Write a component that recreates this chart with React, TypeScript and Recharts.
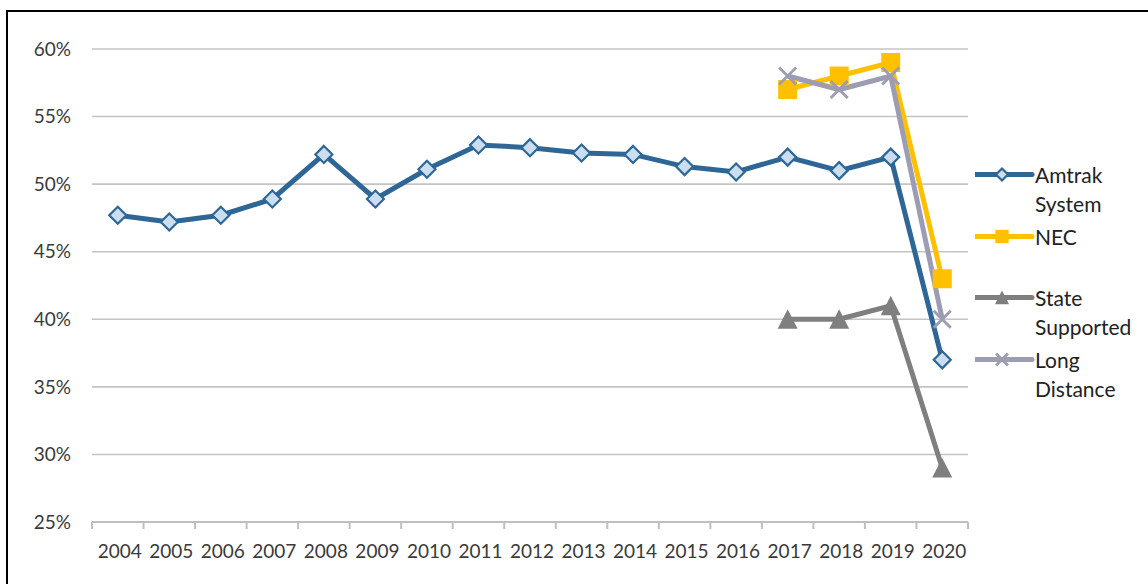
import React from 'react';
import { LineChart, Line, XAxis, YAxis, CartesianGrid, Legend } from 'recharts';

const YEARS = ['2004','2005','2006','2007','2008','2009','2010','2011','2012','2013','2014','2015','2016','2017','2018','2019','2020'];
const AMTRAK = [47.7, 47.2, 47.7, 48.9, 52.2, 48.9, 51.1, 52.9, 52.7, 52.3, 52.2, 51.3, 50.9, 52.0, 51.0, 52.0, 37.0];
const NEC = [null, null, null, null, null, null, null, null, null, null, null, null, null, 57, 58, 59, 43];
const STATE = [null, null, null, null, null, null, null, null, null, null, null, null, null, 40, 40, 41, 29];
const LONG = [null, null, null, null, null, null, null, null, null, null, null, null, null, 58, 57, 58, 40];
const Y_TICKS = [25, 30, 35, 40, 45, 50, 55, 60];

const data = YEARS.map((y, i) => ({
  year: y,
  amtrak: AMTRAK[i],
  nec: NEC[i],
  state: STATE[i],
  long: LONG[i],
}));

const W = 1148;
const H = 584;
const M_LEFT = 0;
const Y_W = 92;
const M_RIGHT = 180;
const PLOT_W = W - M_LEFT - Y_W - M_RIGHT;
const HALF_BAND = PLOT_W / YEARS.length / 2;
const FONT = 'Lato, "Open Sans", sans-serif';

const BLUE = '#2E6795';
const BLUE_FILL = '#CADEF0';
const GOLD = '#FFC000';
const GRAY = '#7F7F7F';
const LAV = '#9C9CB2';

type Shape = 'diamond' | 'square' | 'triangle' | 'x';

const drawMarker = (shape: Shape, cx: number, cy: number, color: string, s = 1) => {
  if (shape === 'diamond') {
    const r = 8.5 * s;
    return <polygon points={`${cx},${cy - r} ${cx + r},${cy} ${cx},${cy + r} ${cx - r},${cy}`} fill={BLUE_FILL} stroke={color} strokeWidth={2.2} />;
  }
  if (shape === 'square') {
    const r = 9.5 * s;
    return <rect x={cx - r} y={cy - r} width={2 * r} height={2 * r} fill={color} />;
  }
  if (shape === 'triangle') {
    const r = 10 * s;
    return <polygon points={`${cx},${cy - r} ${cx + r},${cy + r * 0.95} ${cx - r},${cy + r * 0.95}`} fill={color} />;
  }
  const r = 8.5 * s;
  return (
    <g stroke={color} strokeWidth={2.8}>
      <line x1={cx - r} y1={cy - r} x2={cx + r} y2={cy + r} />
      <line x1={cx - r} y1={cy + r} x2={cx + r} y2={cy - r} />
    </g>
  );
};

const makeDot = (shape: Shape, color: string) => (props: any) => {
  const { cx, cy, index } = props;
  if (cx == null || cy == null || isNaN(cy)) return <g key={`e-${index}`} />;
  return <g key={`d-${index}`}>{drawMarker(shape, cx, cy, color)}</g>;
};

const SERIES: { key: string; lines: string[]; color: string; shape: Shape }[] = [
  { key: 'amtrak', lines: ['Amtrak', 'System'], color: BLUE, shape: 'diamond' },
  { key: 'nec', lines: ['NEC', ''], color: GOLD, shape: 'square' },
  { key: 'state', lines: ['State', 'Supported'], color: GRAY, shape: 'triangle' },
  { key: 'long', lines: ['Long', 'Distance'], color: LAV, shape: 'x' },
];

const LegendContent = () => (
  <div style={{ fontFamily: FONT, fontSize: 21, color: '#222' }}>
    {SERIES.map((s) => (
      <div key={s.key} style={{ height: 61.5, position: 'relative' }}>
        <svg width={60} height={29} style={{ position: 'absolute', left: 0, top: 0 }}>
          <line x1={0} y1={14.5} x2={57} y2={14.5} stroke={s.color} strokeWidth={5} strokeLinecap="round" />
          {drawMarker(s.shape, 27, 14.5, s.color, 0.7)}
        </svg>
        <div style={{ position: 'absolute', left: 60, top: 0, lineHeight: '29px', whiteSpace: 'nowrap' }}>
          <div>{s.lines[0]}</div>
          <div>{s.lines[1] || '\u00a0'}</div>
        </div>
      </div>
    ))}
  </div>
);

const XTick = (props: any) => {
  const { x, y, payload, index } = props;
  const axisY = y - 9;
  const isLast = index === YEARS.length - 1;
  return (
    <g>
      <line x1={x - HALF_BAND} y1={axisY} x2={x - HALF_BAND} y2={axisY + 7} stroke="#BFBFBF" strokeWidth={2} />
      {isLast && <line x1={x + HALF_BAND} y1={axisY} x2={x + HALF_BAND} y2={axisY + 7} stroke="#BFBFBF" strokeWidth={2} />}
      <text x={x + 2} y={axisY + 36} textAnchor="middle" fontFamily={FONT} fontSize={19} fill="#3A3A3A">
        {payload.value}
      </text>
    </g>
  );
};

export default function App() {
  return (
    <div style={{ position: 'absolute', left: 0, top: 0, width: W, height: H, overflow: 'hidden', background: '#fff' }}>
      <div style={{ position: 'absolute', left: 6, top: 10, width: 1200, height: 700, border: '2.5px solid #000', boxSizing: 'border-box' }} />
      <div style={{ position: 'absolute', left: 0, top: 0 }}>
        <LineChart width={W} height={H} data={data} margin={{ top: 49, right: M_RIGHT, bottom: 0, left: M_LEFT }}>
          <CartesianGrid vertical={false} stroke="#C4C4C4" strokeWidth={1.6} />
          <XAxis
            dataKey="year"
            height={62}
            padding={{ left: HALF_BAND, right: HALF_BAND }}
            axisLine={{ stroke: '#BFBFBF', strokeWidth: 2 }}
            tickLine={false}
            tickSize={7}
            tickMargin={2}
            interval={0}
            tick={<XTick />}
          />
          <YAxis
            width={Y_W}
            domain={[25, 60]}
            ticks={Y_TICKS}
            axisLine={false}
            tickLine={false}
            tickSize={0}
            tickMargin={21}
            tickFormatter={(v: number) => `${v}%`}
            tick={{ fontFamily: FONT, fontSize: 19, fill: '#3A3A3A' }}
          />
          <Legend
            layout="vertical"
            align="center"
            verticalAlign="middle"
            content={<LegendContent />}
            wrapperStyle={{ left: 975, top: 160, width: 173 }}
          />
          <Line dataKey="amtrak" type="linear" stroke={BLUE} strokeWidth={5} dot={makeDot('diamond', BLUE)} activeDot={false} isAnimationActive={false} />
          <Line dataKey="nec" type="linear" stroke={GOLD} strokeWidth={5} dot={makeDot('square', GOLD)} activeDot={false} isAnimationActive={false} />
          <Line dataKey="state" type="linear" stroke={GRAY} strokeWidth={5} dot={makeDot('triangle', GRAY)} activeDot={false} isAnimationActive={false} />
          <Line dataKey="long" type="linear" stroke={LAV} strokeWidth={5} dot={makeDot('x', LAV)} activeDot={false} isAnimationActive={false} />
        </LineChart>
      </div>
    </div>
  );
}
